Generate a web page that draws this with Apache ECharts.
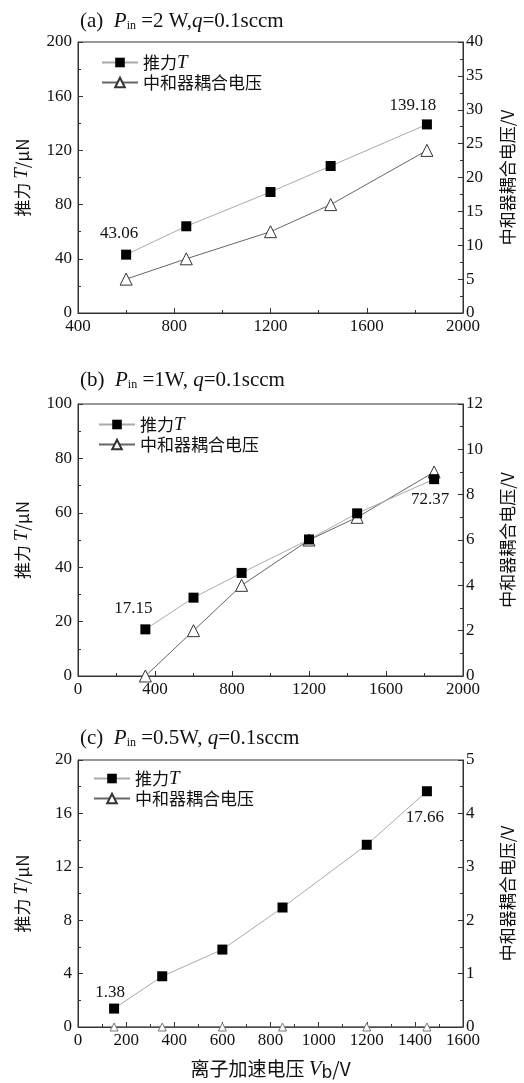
<!DOCTYPE html>
<html lang="zh" style="height: 100%">
<head>
  <meta charset="utf-8">
</head>
<body style="height: 100%; margin: 0; background: #fff">
  <div id="container" style="width: 524px; height: 1083px"></div>

  <script type="text/javascript" src="https://fastly.jsdelivr.net/npm/echarts@6/dist/echarts.min.js"></script>

  <script type="text/javascript">
    // (a) Pin = 2 W
    const xA = [600, 850, 1200, 1450, 1850];
    const thrustA = [43.06, 64, 89.3, 108.5, 139.18];
    const coupleA = [5, 8, 12, 16, 24];
    // (b) Pin = 1 W
    const xB = [350, 600, 850, 1200, 1450, 1850];
    const thrustB = [17.15, 28.8, 37.9, 50.2, 59.8, 72.37];
    const coupleB = [0, 2, 4, 6, 7, 9];
    // (c) Pin = 0.5 W
    const xC = [150, 350, 600, 850, 1200, 1450];
    const thrustC = [1.38, 3.8, 5.8, 8.95, 13.65, 17.66];
    const coupleC = [0, 0, 0, 0, 0, 0];

    const titles = [
      '(a)  {i|P}{sub|in} =2 W,{i|q}=0.1sccm',
      '(b)  {i|P}{sub|in} =1W, {i|q}=0.1sccm',
      '(c)  {i|P}{sub|in} =0.5W, {i|q}=0.1sccm'
    ];
    // [min, max, interval] per axis
    const xRanges = [[400, 2000, 400], [0, 2000, 400], [0, 1600, 200]];
    const leftRanges = [[0, 200, 40], [0, 100, 20], [0, 20, 4]];
    const rightRanges = [[0, 40, 5], [0, 12, 2], [0, 5, 1]];

    const serif = "'Liberation Serif', 'Noto Sans CJK SC', serif";
    const cjk = "'Noto Sans CJK SC', 'Liberation Serif', sans-serif";
    const axisColor = '#333';
    const thrustName = '推力T';
    const coupleName = '中和器耦合电压';

    const gridTops = [42, 404, 760];
    const gridHeights = [271, 272, 270];
    const titleTops = [5, 364, 722];
    const legendPos = [[96, 48], [93, 410], [88, 764]];

    var dom = document.getElementById('container');
    var myChart = echarts.init(dom, null, { renderer: 'canvas' });

    function makeX(i) {
      const r = xRanges[i];
      return {
        type: 'value', gridIndex: i, min: r[0], max: r[1], interval: r[2],
        axisLine: { show: true, lineStyle: { color: axisColor, width: 1 } },
        axisTick: { show: true, inside: true, length: 5, lineStyle: { color: axisColor } },
        minorTick: { show: true, splitNumber: 2, length: 3, lineStyle: { color: axisColor } },
        splitLine: { show: false },
        axisLabel: { color: '#111', fontFamily: serif, fontSize: 17, margin: 5, formatter: (v) => String(v) },
        name: i === 2 ? '离子加速电压 {i|V}{sub|b}/V' : '',
        nameLocation: 'middle',
        nameGap: 29,
        nameTextStyle: {
          color: '#111', fontFamily: cjk, fontSize: 19,
          rich: {
            i: { fontFamily: serif, fontStyle: 'italic', fontSize: 21, color: '#111' },
            sub: { fontFamily: "'DejaVu Sans', sans-serif", fontSize: 17, color: '#111', padding: [9, 0, 0, 0] }
          }
        }
      };
    }

    function makeY(i, right) {
      const r = right ? rightRanges[i] : leftRanges[i];
      return {
        type: 'value', gridIndex: i, position: right ? 'right' : 'left',
        min: r[0], max: r[1], interval: r[2],
        axisLine: { show: true, lineStyle: { color: axisColor, width: 1 } },
        axisTick: { show: true, inside: true, length: 5, lineStyle: { color: axisColor } },
        minorTick: { show: true, splitNumber: 2, length: 3, lineStyle: { color: axisColor } },
        splitLine: { show: false },
        axisLabel: { color: '#111', fontFamily: serif, fontSize: 17, margin: right ? 3 : 6, formatter: (v) => String(v) },
        name: right ? '中和器耦合电压/V' : '推力 {i|T}/μN',
        nameLocation: 'middle',
        nameGap: right ? 36 : 46,
        nameTextStyle: {
          color: '#111', fontFamily: cjk, fontSize: 17,
          rich: { i: { fontFamily: serif, fontStyle: 'italic', fontSize: 19, color: '#111' } }
        }
      };
    }

    function pts(xs, ys) {
      return xs.map((x, k) => [x, ys[k]]);
    }

    // label placement for first / last thrust points
    const labelOffsets = [
      { first: [-7, -3], last: [-14, 0], lastPos: 'top' },
      { first: [-12, -2], last: [-4, 2], lastPos: 'bottom' },
      { first: [-4, 2], last: [-2, 8], lastPos: 'bottom' }
    ];

    function thrustData(xs, ys, i) {
      const o = labelOffsets[i];
      return xs.map((x, k) => {
        const item = { value: [x, ys[k]] };
        if (k === 0) {
          item.label = { show: true, position: 'top', offset: o.first, formatter: String(ys[k]) };
        } else if (k === xs.length - 1) {
          item.label = { show: true, position: o.lastPos, offset: o.last, formatter: String(ys[k]) };
        }
        return item;
      });
    }

    const allX = [xA, xB, xC];
    const allT = [thrustA, thrustB, thrustC];
    const allC = [coupleA, coupleB, coupleC];

    const series = [];
    for (let i = 0; i < 3; i++) {
      series.push({
        name: thrustName,
        type: 'line',
        xAxisIndex: i,
        yAxisIndex: i * 2,
        data: thrustData(allX[i], allT[i], i),
        symbol: 'rect',
        symbolSize: 10,
        itemStyle: { color: '#000' },
        lineStyle: { color: '#aaa', width: 1 },
        label: { color: '#111', fontFamily: serif, fontSize: 17 },
        clip: false,
        z: 3
      });
      series.push({
        name: coupleName,
        type: 'line',
        xAxisIndex: i,
        yAxisIndex: i * 2 + 1,
        data: pts(allX[i], allC[i]),
        symbol: 'triangle',
        symbolSize: i === 2 ? 8 : 12,
        itemStyle: { color: '#fff', borderColor: i === 2 ? '#777' : '#333', borderWidth: 1 },
        lineStyle: { color: '#666', width: 1 },
        clip: false,
        z: 2
      });
    }

    const option = {
      backgroundColor: '#fff',
      animation: false,
      title: titles.map((t, i) => ({
        text: t,
        left: 75,
        top: titleTops[i],
        textStyle: {
          fontFamily: serif, fontSize: 21, fontWeight: 'normal', color: '#111',
          rich: {
            i: { fontFamily: serif, fontStyle: 'italic', fontSize: 21, color: '#111' },
            sub: { fontFamily: serif, fontSize: 12, color: '#111', padding: [10, 0, 0, 0] }
          }
        }
      })),
      legend: legendPos.map((p) => ({
        data: [thrustName, coupleName],
        orient: 'vertical',
        left: p[0],
        top: p[1],
        itemWidth: 36,
        itemHeight: 12,
        itemGap: 2,
        formatter: function (name) {
          return name === thrustName ? '推力{i|T}' : name;
        },
        textStyle: {
          fontFamily: cjk, fontSize: 17, color: '#111',
          rich: { i: { fontFamily: serif, fontStyle: 'italic', fontSize: 19, color: '#111' } }
        }
      })),
      grid: gridTops.map((t, i) => ({
        left: 78, right: 57, top: t, height: gridHeights[i],
        show: true, borderColor: axisColor, borderWidth: 1, backgroundColor: 'transparent'
      })),
      xAxis: [0, 1, 2].map(makeX),
      yAxis: [makeY(0, false), makeY(0, true), makeY(1, false), makeY(1, true), makeY(2, false), makeY(2, true)],
      series: series
    };

    myChart.setOption(option);
    window.addEventListener('resize', myChart.resize);
  </script>
</body>
</html>
